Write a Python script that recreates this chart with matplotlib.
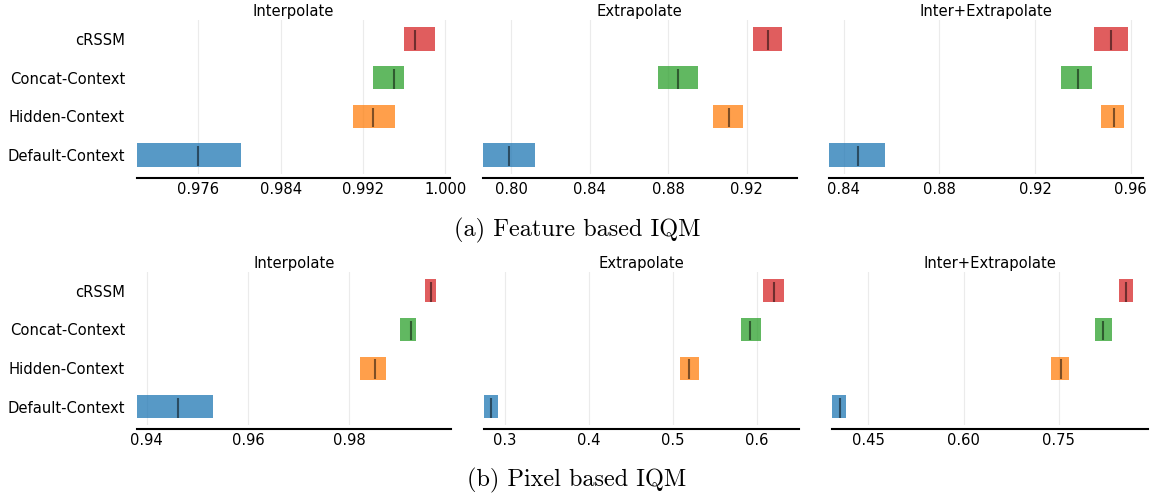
import numpy as np
import matplotlib
matplotlib.use('Agg')
import matplotlib.pyplot as plt

# Algorithms, bottom to top
algorithms = ['Default-Context', 'Hidden-Context', 'Concat-Context', 'cRSSM']
colors = ['#1f77b4', '#ff7f0e', '#2ca02c', '#d62728']
metric_names = ['Interpolate', 'Extrapolate', 'Inter+Extrapolate']

# (a) Feature based IQM: lower CI, upper CI, point estimate per metric
feat_lower = {
    'Default-Context': [0.9700, 0.7855, 0.8340],
    'Hidden-Context':  [0.9910, 0.9027, 0.9477],
    'Concat-Context':  [0.9930, 0.8746, 0.9309],
    'cRSSM':           [0.9960, 0.9234, 0.9448],
}
feat_upper = {
    'Default-Context': [0.9801, 0.8123, 0.8571],
    'Hidden-Context':  [0.9951, 0.9180, 0.9570],
    'Concat-Context':  [0.9960, 0.8950, 0.9439],
    'cRSSM':           [0.9990, 0.9379, 0.9590],
}
feat_point = {
    'Default-Context': [0.9760, 0.7991, 0.8462],
    'Hidden-Context':  [0.9930, 0.9110, 0.9529],
    'Concat-Context':  [0.9950, 0.8849, 0.9381],
    'cRSSM':           [0.9970, 0.9310, 0.9519],
}
feat_ticks = [['0.976', '0.984', '0.992', '1.000'],
              ['0.80', '0.84', '0.88', '0.92'],
              ['0.84', '0.88', '0.92', '0.96']]

# (b) Pixel based IQM
pix_lower = {
    'Default-Context': [0.9380, 0.2758, 0.3929],
    'Hidden-Context':  [0.9821, 0.5085, 0.7379],
    'Concat-Context':  [0.9900, 0.5813, 0.8066],
    'cRSSM':           [0.9950, 0.6072, 0.8446],
}
pix_upper = {
    'Default-Context': [0.9530, 0.2925, 0.4151],
    'Hidden-Context':  [0.9873, 0.5312, 0.7670],
    'Concat-Context':  [0.9932, 0.6051, 0.8335],
    'cRSSM':           [0.9972, 0.6326, 0.8668],
}
pix_point = {
    'Default-Context': [0.9461, 0.2838, 0.4045],
    'Hidden-Context':  [0.9851, 0.5192, 0.7537],
    'Concat-Context':  [0.9922, 0.5924, 0.8203],
    'cRSSM':           [0.9962, 0.6203, 0.8562],
}
pix_ticks = [['0.94', '0.96', '0.98'],
             ['0.3', '0.4', '0.5', '0.6'],
             ['0.45', '0.60', '0.75']]

captions = ['(a) Feature based IQM', '(b) Pixel based IQM']

W, H = 1153, 496
fig = plt.figure(figsize=(W / 100, H / 100), dpi=100)

# axes boxes in pixels: (left, right, top, bottom)
boxes = [
    [(136.7, 450.0, 20.4, 173.6), (482.7, 796.7, 20.4, 173.6), (829.3, 1143.3, 20.4, 173.6)],
    [(136.7, 451.0, 272.2, 425.4), (484.3, 799.3, 272.2, 425.4), (832.3, 1147.7, 272.2, 425.4)],
]
spine_offsets = [3.4, 2.7]
h = 0.6
fs = 10.6


def plot_row(row, lower, upper, point, ticks):
    for idx, metric in enumerate(metric_names):
        l, r, t, b = boxes[row][idx]
        ax = fig.add_axes([l / W, 1 - b / H, (r - l) / W, (b - t) / H])
        for alg_idx, alg in enumerate(algorithms):
            lo, hi = lower[alg][idx], upper[alg][idx]
            ax.barh(y=alg_idx, width=hi - lo, height=h, left=lo,
                    color=colors[alg_idx], alpha=0.75)
            ax.vlines(x=point[alg][idx], ymin=alg_idx - 7.5 * h / 16,
                      ymax=alg_idx + 6 * h / 16, color='k', alpha=0.5)
        tick_labels = ticks[idx]
        ax.set_xticks([float(s) for s in tick_labels], labels=tick_labels)
        ax.set_yticks(range(len(algorithms)))
        if idx == 0:
            ax.set_yticklabels(algorithms, fontsize=fs)
        else:
            ax.set_yticklabels([])
        ax.set_title(metric, fontsize=fs, pad=3)
        for s in ['right', 'top', 'left']:
            ax.spines[s].set_visible(False)
        ax.spines['bottom'].set_linewidth(1.5)
        ax.spines['bottom'].set_position(('outward', spine_offsets[row]))
        ax.tick_params(axis='x', length=0, labelsize=fs, pad=2.5)
        ax.tick_params(axis='y', length=0, labelsize=fs, pad=8.4)
        ax.grid(True, axis='x', alpha=0.25)
        ax.set_axisbelow(True)


plot_row(0, feat_lower, feat_upper, feat_point, feat_ticks)
plot_row(1, pix_lower, pix_upper, pix_point, pix_ticks)

fig.text(577 / W, 1 - 230 / H, captions[0], ha='center', va='center',
         fontsize=17.5, family='cmr10')
fig.text(577 / W, 1 - 480 / H, captions[1], ha='center', va='center',
         fontsize=17.5, family='cmr10')

fig.savefig('out.png', dpi=100)
